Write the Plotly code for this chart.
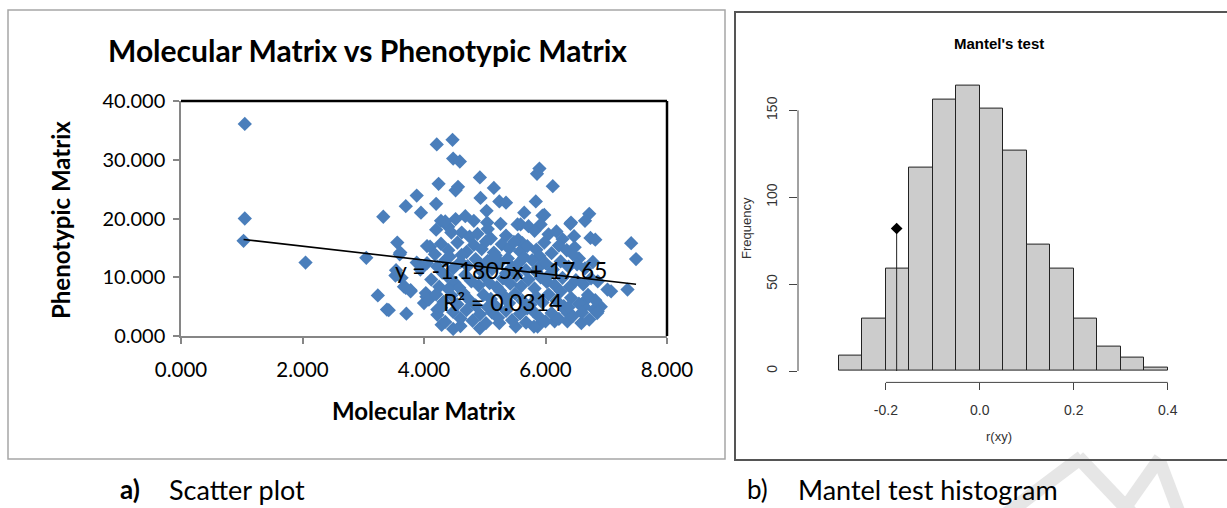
import plotly.graph_objects as go

W, H = 1227, 508


def px(x):
    return x / W


def py(y):
    return 1 - y / H


# ---------------- Scatter data (Molecular vs Phenotypic) ----------------
mol_x = [
    1.05, 1.05, 1.03, 2.05, 3.05, 3.33, 3.24, 3.42, 3.71, 3.56, 3.70, 3.88, 3.95,
    4.21, 4.47, 4.48, 4.59, 4.24, 4.56, 4.52, 4.20, 4.92, 5.90, 5.86, 6.12, 5.15, 4.93,
    5.24, 5.35, 5.84, 5.03, 5.65, 5.98, 6.72, 6.65, 6.42, 6.47, 6.74, 6.82, 5.95, 5.59,
    3.60, 3.63, 3.70, 3.78, 3.53, 3.88, 4.04, 4.00, 3.54, 3.67, 3.39, 3.61, 3.94, 4.05,
    7.41, 7.49, 7.35, 7.02, 6.86, 6.91, 6.80, 6.67, 6.59, 7.08, 6.64, 6.86, 6.37, 6.15,
    4.29, 4.48, 4.60, 4.92, 5.24, 5.51, 5.87, 6.36, 5.81, 4.22, 4.03, 3.78,
    4.28, 4.40, 4.45, 4.82, 5.04, 5.26, 5.54, 5.92, 6.41, 4.62, 5.72, 6.05, 6.18, 6.28,
    4.75, 4.88, 5.05, 5.35, 5.55, 5.82, 4.20, 4.52, 4.68, 5.10, 5.62, 4.35,
    4.10, 4.28, 4.40, 4.55, 4.70, 4.82, 4.95, 5.02, 5.15, 5.28, 5.40, 5.48,
    5.58, 5.70, 5.85, 5.98, 6.10, 6.22, 6.35, 6.48, 4.62, 5.90, 6.55, 4.18,
    4.05, 4.22, 4.35, 4.48, 4.60, 4.72, 4.85, 4.92, 5.05, 5.12, 5.25, 5.38, 5.45, 5.55,
    5.68, 5.78, 5.88, 6.00, 6.12, 6.25, 6.38, 6.52, 6.65, 6.78, 4.42, 5.18, 5.65, 6.45,
    4.12, 4.25, 4.38, 4.50, 4.58, 4.68, 4.78, 4.90, 5.00, 5.08, 5.20, 5.30, 5.42, 5.52, 5.60,
    5.72, 5.82, 5.92, 6.02, 6.15, 6.28, 6.40, 6.50, 6.62, 6.75, 4.30, 4.95, 5.35, 6.08, 5.85,
    4.08, 4.20, 4.32, 4.45, 4.55, 4.65, 4.75, 4.85, 4.98, 5.10, 5.18, 5.32, 5.40, 5.50,
    5.62, 5.75, 5.85, 5.95, 6.05, 6.18, 6.30, 6.42, 6.55, 6.70, 6.82, 4.40, 5.25, 6.25,
    4.22, 4.35, 4.48, 4.60, 4.70, 4.80, 4.92, 5.02, 5.12, 5.22, 5.35, 5.45, 5.58, 5.68,
    5.80, 5.90, 6.00, 6.10, 6.22, 6.32, 6.45, 6.60, 6.72, 6.85, 4.28, 5.05, 5.70, 6.38,
]
phen_y = [
    36.1, 20.0, 16.2, 12.5, 13.3, 20.3, 6.9, 4.4, 3.8, 15.9, 22.1, 23.9, 21.0,
    32.6, 33.4, 30.2, 29.7, 25.9, 25.4, 24.8, 22.5, 27.0, 28.5, 27.6, 25.5, 25.2, 23.5,
    22.9, 22.7, 22.9, 21.3, 21.0, 20.6, 20.8, 19.6, 19.3, 17.0, 16.7, 16.4, 20.5, 19.0,
    13.9, 9.9, 8.2, 7.6, 10.3, 12.5, 6.7, 5.6, 11.2, 8.4, 4.5, 14.2, 11.3, 15.3,
    15.8, 13.1, 7.9, 7.9, 9.3, 5.0, 4.5, 6.2, 2.2, 7.6, 5.0, 4.2, 3.9, 2.5,
    1.9, 1.2, 1.7, 1.3, 2.2, 1.6, 1.6, 2.5, 1.6, 4.5, 7.3, 7.8,
    19.6, 18.6, 17.6, 19.6, 19.3, 19.1, 19.0, 19.0, 19.1, 17.6, 18.7, 17.3, 17.8, 16.5,
    16.9, 17.4, 18.2, 17.1, 16.4, 17.9, 18.1, 19.9, 20.4, 16.6, 15.8, 19.5,
    15.2, 15.7, 14.6, 15.9, 14.3, 15.5, 14.8, 16.1, 14.2, 15.6, 14.9, 16.0,
    14.4, 15.3, 14.7, 15.9, 14.1, 15.4, 14.6, 15.1, 13.8, 13.6, 13.2, 13.9,
    12.4, 11.8, 12.9, 11.5, 12.6, 11.9, 13.1, 12.0, 12.8, 11.4, 12.5, 13.2, 11.7, 12.3,
    11.2, 12.9, 11.6, 12.4, 11.3, 12.7, 11.8, 12.2, 11.5, 12.6, 13.5, 13.7, 13.4, 13.9,
    9.6, 8.4, 10.2, 9.1, 8.2, 10.4, 9.3, 8.6, 10.1, 9.0, 8.3, 9.8, 8.9, 10.3, 8.5,
    9.6, 8.1, 10.0, 9.2, 8.7, 9.9, 8.4, 9.5, 8.8, 9.8, 10.8, 11.0, 10.7, 10.6, 10.9,
    6.2, 7.1, 5.8, 6.9, 5.4, 7.3, 6.1, 5.2, 7.0, 6.3, 5.1, 6.8, 5.6, 7.2,
    6.0, 5.3, 6.7, 5.7, 7.1, 6.0, 5.1, 6.5, 5.5, 7.0, 6.1, 8.0, 7.7, 7.6,
    3.6, 2.4, 4.1, 3.0, 4.4, 2.6, 3.7, 2.2, 4.0, 3.1, 4.3, 2.7, 3.8, 2.3,
    4.2, 3.2, 2.5, 3.9, 2.9, 4.5, 3.4, 4.0, 2.8, 3.9, 4.8, 4.9, 4.7, 4.9,
]

trend_slope = -1.1805
trend_intercept = 17.65
trend_r2 = 0.0314

scatter_xticks = [0, 2, 4, 6, 8]
scatter_yticks = [0, 10, 20, 30, 40]

# ---------------- Histogram data (Mantel's test) ----------------
bin_start = -0.30
bin_width = 0.05
freq = [9, 30, 59, 117, 156, 164, 151, 127, 73, 59, 30, 14, 8, 2]
obs_r = -0.177
obs_height = 82
hist_xticks = [-0.2, 0.0, 0.2, 0.4]
hist_xticklabels = ["-0.2", "0.0", "0.2", "0.4"]
hist_yticks = [0, 50, 100, 150]

bin_centers = [bin_start + bin_width * (i + 0.5) for i in range(len(freq))]

# trendline endpoints from the data extent
tx = [min(mol_x), max(mol_x)]
ty = [trend_slope * v + trend_intercept for v in tx]

CAL = "Lato"
ARIAL = "Liberation Sans"
BLUE = "#4A7EBB"
AXGRAY = "#868686"

fig = go.Figure()

fig.add_trace(go.Scatter(
    x=mol_x, y=phen_y, mode="markers", xaxis="x", yaxis="y",
    marker=dict(symbol="diamond", size=11, color=BLUE, line=dict(width=0)),
    hoverinfo="skip",
))
fig.add_trace(go.Scatter(
    x=tx, y=ty, mode="lines", xaxis="x", yaxis="y",
    line=dict(color="black", width=1.6), hoverinfo="skip",
))

fig.add_trace(go.Bar(
    x=bin_centers, y=freq, width=bin_width, xaxis="x2", yaxis="y2",
    marker=dict(color="#CCCCCC", line=dict(color="#222222", width=1)),
    hoverinfo="skip",
))
fig.add_trace(go.Scatter(
    x=[obs_r, obs_r], y=[0, obs_height], mode="lines", xaxis="x2", yaxis="y2",
    line=dict(color="#222222", width=1), hoverinfo="skip",
))
fig.add_trace(go.Scatter(
    x=[obs_r], y=[obs_height], mode="markers", xaxis="x2", yaxis="y2",
    marker=dict(symbol="diamond", size=9, color="black"), hoverinfo="skip",
))

fig.update_layout(
    template="none",
    width=W, height=H,
    margin=dict(l=0, r=0, t=0, b=0, pad=0),
    paper_bgcolor="white", plot_bgcolor="rgba(0,0,0,0)",
    showlegend=False,
    bargap=0,
    xaxis=dict(
        domain=[px(181), px(667)], range=[0, 8], anchor="y", automargin=False,
        tickvals=scatter_xticks, tickformat=".3f",
        showline=True, linecolor=AXGRAY, linewidth=1.5,
        ticks="outside", ticklen=6, tickcolor=AXGRAY, tickwidth=1.5,
        tickfont=dict(family=CAL, size=20.5, color="black"),
        ticklabelstandoff=9,
        showgrid=False, zeroline=False,
    ),
    yaxis=dict(
        domain=[py(336), py(101)], range=[0, 40], anchor="x", automargin=False,
        tickvals=scatter_yticks, tickformat=".3f",
        showline=True, linecolor=AXGRAY, linewidth=1.5,
        ticks="outside", ticklen=6, tickcolor=AXGRAY, tickwidth=1.5,
        tickfont=dict(family=CAL, size=20, color="black"),
        ticklabelstandoff=4,
        showgrid=False, zeroline=False,
    ),
    xaxis2=dict(
        domain=[px(798), px(1210)], range=[-0.387, 0.49], anchor="y2", automargin=False,
        tickvals=hist_xticks, ticktext=hist_xticklabels,
        showline=False, ticks="outside", ticklen=7, tickcolor="#444444",
        tickfont=dict(family=ARIAL, size=14, color="#333333"),
        ticklabelstandoff=8,
        showgrid=False, zeroline=False,
    ),
    yaxis2=dict(
        domain=[py(382.4), py(74.6)], range=[-6.56, 170.56], anchor="x2", automargin=False,
        tickvals=hist_yticks, tickangle=-90,
        showline=False, ticks="outside", ticklen=8, tickcolor="#444444",
        tickfont=dict(family=ARIAL, size=14, color="#333333"),
        ticklabelstandoff=6,
        showgrid=False, zeroline=False,
    ),
)

shapes = [
    # watermark strokes
    dict(type="line", xref="paper", yref="paper", x0=px(1005), y0=py(515), x1=px(1082), y1=py(457),
         line=dict(color="#E6E6E6", width=14), layer="below"),
    dict(type="line", xref="paper", yref="paper", x0=px(1078), y0=py(457), x1=px(1133), y1=py(515),
         line=dict(color="#E6E6E6", width=14), layer="below"),
    dict(type="line", xref="paper", yref="paper", x0=px(1120), y0=py(515), x1=px(1160), y1=py(458),
         line=dict(color="#E6E6E6", width=13), layer="below"),
    dict(type="line", xref="paper", yref="paper", x0=px(1160), y0=py(462), x1=px(1180), y1=py(515),
         line=dict(color="#E6E6E6", width=13), layer="below"),
    # panel frames
    dict(type="rect", xref="paper", yref="paper", x0=px(8), y0=py(459), x1=px(725), y1=py(10),
         line=dict(color="#A6A6A6", width=1.5)),
    dict(type="rect", xref="paper", yref="paper", x0=px(735), y0=py(460), x1=px(1240), y1=py(12),
         line=dict(color="#555555", width=2)),
    # Excel plot-area border (top & right)
    dict(type="line", xref="x domain", yref="y domain", x0=0, y0=1, x1=1, y1=1,
         line=dict(color="black", width=2.5)),
    dict(type="line", xref="x domain", yref="y domain", x0=1, y0=0, x1=1, y1=1,
         line=dict(color="black", width=2.5)),
    # R-style axis lines spanning first..last tick
    dict(type="line", xref="x2", yref="y2 domain", x0=hist_xticks[0], x1=hist_xticks[-1], y0=0, y1=0,
         line=dict(color="#444444", width=1)),
    dict(type="line", xref="x2 domain", yref="y2", x0=0, x1=0, y0=hist_yticks[0], y1=hist_yticks[-1],
         line=dict(color="#444444", width=1)),
]
fig.update_layout(shapes=shapes)

ann = [
    dict(text="<b>Molecular Matrix vs Phenotypic Matrix</b>", x=px(367), y=py(50),
         font=dict(family=CAL, size=30, color="black")),
    dict(text="<b>Molecular Matrix</b>", x=px(424), y=py(410),
         font=dict(family=CAL, size=24, color="black")),
    dict(text="<b>Phenotypic Matrix</b>", x=px(60), y=py(220), textangle=-90,
         font=dict(family=CAL, size=24, color="black")),
    dict(text=f"y = {trend_slope}x + {trend_intercept}", x=px(501), y=py(270),
         font=dict(family=CAL, size=23, color="black")),
    dict(text=f"R² = {trend_r2}", x=px(502), y=py(302),
         font=dict(family=CAL, size=23, color="black")),
    dict(text="<b>Mantel's test</b>", x=px(999), y=py(44),
         font=dict(family=ARIAL, size=15, color="black")),
    dict(text="Frequency", x=px(746), y=py(228), textangle=-90,
         font=dict(family=ARIAL, size=13, color="#333333")),
    dict(text="r(xy)", x=px(999), y=py(436),
         font=dict(family=ARIAL, size=13, color="#333333")),
    dict(text="<b>a)</b>", x=px(118), y=py(489), xanchor="left",
         font=dict(family=CAL, size=26, color="black")),
    dict(text="Scatter plot", x=px(167), y=py(489), xanchor="left",
         font=dict(family=CAL, size=27, color="black")),
    dict(text="b)", x=px(745), y=py(489), xanchor="left",
         font=dict(family=CAL, size=26, color="black")),
    dict(text="Mantel test histogram", x=px(796), y=py(489), xanchor="left",
         font=dict(family=CAL, size=27, color="black")),
]
for a in ann:
    a.setdefault("xref", "paper")
    a.setdefault("yref", "paper")
    a.setdefault("showarrow", False)
    a.setdefault("xanchor", "center")
    a.setdefault("yanchor", "middle")
fig.update_layout(annotations=ann)

fig.write_html(
    "out.html",
    config={"displayModeBar": False},
    post_script="document.body.style.margin='0';document.body.style.overflow='hidden';",
)
